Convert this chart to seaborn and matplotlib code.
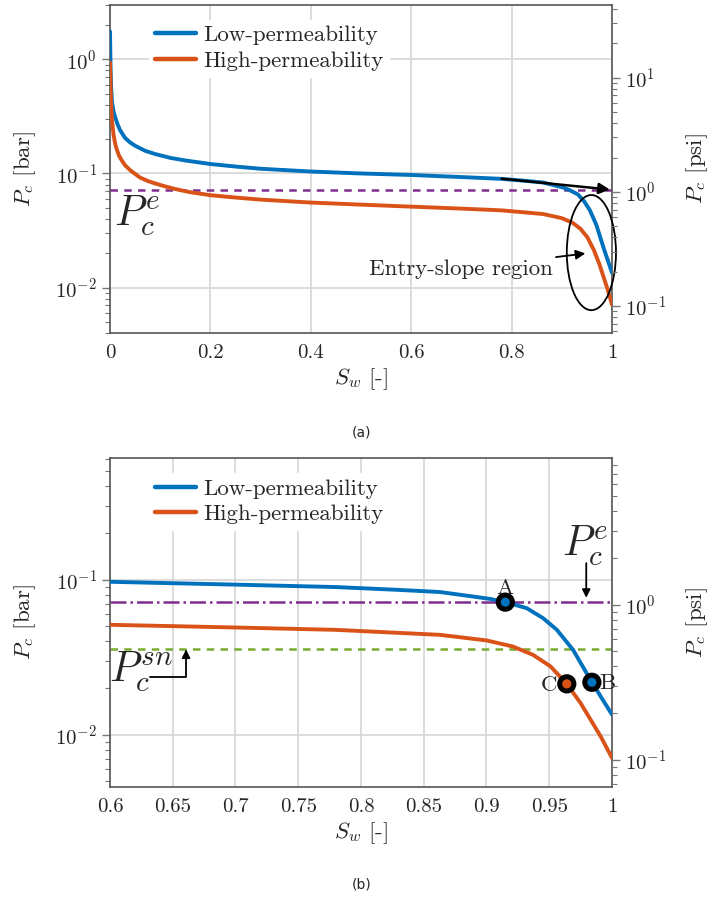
import numpy as np
import pandas as pd
import seaborn as sns
import matplotlib.pyplot as plt
from matplotlib.patches import Ellipse
from matplotlib.lines import Line2D
from matplotlib.ticker import FuncFormatter, FixedLocator, LogLocator, NullFormatter

# capillary pressure curves (Sw [-], Pc [bar])
sw_low = [0.0, 0.001, 0.002, 0.004, 0.007, 0.01, 0.015, 0.02, 0.03, 0.04, 0.05, 0.07, 0.09, 0.12,
          0.15, 0.2, 0.25, 0.3, 0.4, 0.5, 0.6, 0.7, 0.78, 0.83, 0.863, 0.889, 0.903, 0.915, 0.932,
          0.945, 0.956, 0.969, 0.984, 1.0]
pc_low = [1.76, 0.9, 0.6, 0.42, 0.35, 0.314, 0.27, 0.24, 0.205, 0.187, 0.175, 0.158, 0.148, 0.137,
          0.13, 0.121, 0.115, 0.11, 0.104, 0.1, 0.097, 0.093, 0.0897, 0.086, 0.0833, 0.078, 0.0752,
          0.0717, 0.0656, 0.0566, 0.0476, 0.0353, 0.0218, 0.0135]

sw_high = [0.0, 0.001, 0.002, 0.004, 0.007, 0.01, 0.013, 0.018, 0.023, 0.03, 0.04, 0.05, 0.06,
           0.075, 0.09, 0.11, 0.13, 0.16, 0.2, 0.25, 0.3, 0.4, 0.5, 0.6, 0.7, 0.78, 0.863, 0.9,
           0.921, 0.937, 0.951, 0.964, 0.975, 0.991, 1.0]
pc_high = [0.94, 0.6, 0.42, 0.29, 0.22, 0.185, 0.165, 0.143, 0.131, 0.118, 0.107, 0.099, 0.092,
           0.086, 0.0817, 0.077, 0.073, 0.0685, 0.0645, 0.0615, 0.059, 0.0556, 0.0533, 0.0512,
           0.0492, 0.0475, 0.0441, 0.0406, 0.0371, 0.0328, 0.0276, 0.0213, 0.016, 0.00976, 0.0071]

pc_entry = 0.0718    # P_c^e
pc_snap = 0.0359     # P_c^sn

point_names = ['A', 'B', 'C']
point_sw = [0.915, 0.984, 0.964]
point_pc = [0.0717, 0.0218, 0.0213]
point_curve = ['Low-permeability', 'Low-permeability', 'High-permeability']

BAR_TO_PSI = 14.5038

sns.set_style('ticks')
plt.rcParams['font.family'] = ['cmr10', 'DejaVu Serif']
plt.rcParams['mathtext.fontset'] = 'cm'
plt.rcParams['axes.formatter.use_mathtext'] = True

palette = {'Low-permeability': '#0072BD', 'High-permeability': '#D95319'}

df = pd.concat([
    pd.DataFrame({'Sw': sw_low, 'Pc': pc_low, 'curve': 'Low-permeability'}),
    pd.DataFrame({'Sw': sw_high, 'Pc': pc_high, 'curve': 'High-permeability'}),
], ignore_index=True)

pts = pd.DataFrame({'name': point_names, 'Sw': point_sw, 'Pc': point_pc, 'curve': point_curve})

fig = plt.figure(figsize=(7.12, 8.97), dpi=100)
ax1 = fig.add_axes([0.1545, 0.6288, 0.705, 0.3657])
ax2 = fig.add_axes([0.1545, 0.1226, 0.705, 0.3668])

FS = 15
LFS = 16.5


def setup(ax, xlim, ylim, xticks):
    ax.set_yscale('log')
    sns.lineplot(data=df, x='Sw', y='Pc', hue='curve', palette=palette, lw=2.8,
                 legend=False, ax=ax, zorder=3)
    ax.set_xlim(*xlim)
    ax.set_ylim(*ylim)
    ax.xaxis.set_major_locator(FixedLocator(xticks))
    ax.xaxis.set_major_formatter(FuncFormatter(lambda v, p: f'{v:g}'))
    ax.yaxis.set_major_locator(LogLocator(base=10, numticks=10))
    ax.yaxis.set_minor_locator(LogLocator(base=10, subs=np.arange(2, 10), numticks=20))
    ax.yaxis.set_minor_formatter(NullFormatter())
    ax.grid(True, which='major', color='#d6d6d6', lw=1.2)
    ax.set_axisbelow(True)
    for s in ax.spines.values():
        s.set_color('#555555')
        s.set_linewidth(1.2)
    ax.tick_params(axis='x', length=0, pad=8, labelsize=FS)
    ax.tick_params(axis='y', which='major', length=6, width=1, color='#777777', labelsize=FS, direction='out')
    ax.tick_params(axis='y', which='minor', length=3.5, width=0.8, color='#777777', direction='out')
    ax.set_xlabel(r'$S_w$ [-]', fontsize=LFS, labelpad=3)
    ax.set_ylabel(r'$P_c$ [bar]', fontsize=LFS, labelpad=12)

    axr = ax.twinx()
    axr.set_yscale('log')
    axr.set_ylim(ylim[0] * BAR_TO_PSI, ylim[1] * BAR_TO_PSI)
    axr.yaxis.set_major_locator(LogLocator(base=10, numticks=10))
    axr.yaxis.set_minor_locator(LogLocator(base=10, subs=np.arange(2, 10), numticks=20))
    axr.yaxis.set_minor_formatter(NullFormatter())
    axr.tick_params(axis='y', which='major', length=6, width=1, color='#777777', labelsize=FS)
    axr.tick_params(axis='y', which='minor', length=3.5, width=0.8, color='#777777')
    for s in axr.spines.values():
        s.set_visible(False)
    axr.set_ylabel(r'$P_c$ [psi]', fontsize=LFS, labelpad=13)

    handles = [Line2D([], [], color=palette[k], lw=3.2) for k in palette]
    leg = ax.legend(handles, list(palette.keys()), loc='upper left', bbox_to_anchor=(0.055, 0.99),
                    fontsize=LFS, frameon=True, framealpha=1, edgecolor='white', fancybox=False,
                    handlelength=1.8, handletextpad=0.3, labelspacing=0.25, borderpad=0.25)
    leg.set_zorder(5)
    return axr


# ---- (a) full range ----
setup(ax1, (0, 1), (0.004, 3.0), np.linspace(0, 1, 6))
ax1.axhline(pc_entry, color='#7E2F8E', ls=(0, (3, 2.5)), lw=1.8, zorder=2)
ax1.text(0.008, 0.043, r'$P_c^e$', fontsize=30, ha='left', va='center')
ax1.annotate('', xy=(0.996, 0.0722), xytext=(0.78, 0.09),
             arrowprops=dict(arrowstyle='-|>', color='black', lw=1.8, shrinkA=0, shrinkB=0,
                             mutation_scale=16), zorder=6)
ax1.add_patch(Ellipse((0.959, 0.245), 0.098, 0.351, transform=ax1.transAxes,
                      fill=False, edgecolor='black', lw=1.3, zorder=6, clip_on=False))
ax1.annotate('Entry-slope region', xy=(0.947, 0.0199), xytext=(0.882, 0.0146),
             ha='right', va='center', fontsize=LFS,
             arrowprops=dict(arrowstyle='-|>', color='black', lw=1.3, shrinkA=0, shrinkB=0,
                             mutation_scale=14))

# ---- (b) zoom near Sw = 1 ----
setup(ax2, (0.6, 1.0), (0.0046, 0.61), np.linspace(0.6, 1.0, 9))
ax2.axhline(pc_entry, color='#7E2F8E', ls='-.', lw=1.8, zorder=2)
ax2.axhline(pc_snap, color='#77AC30', ls=(0, (3, 2.5)), lw=1.8, zorder=2)
sns.scatterplot(data=pts, x='Sw', y='Pc', hue='curve', palette=palette, s=105,
                edgecolor='black', linewidth=3.6, legend=False, ax=ax2, zorder=4)
ax2.text(point_sw[0], 0.0815, 'A', fontsize=LFS, ha='center', va='baseline', zorder=6)
ax2.text(0.9895, 0.0216, 'B', fontsize=LFS, ha='left', va='center', zorder=6)
ax2.text(0.9565, 0.0208, 'C', fontsize=LFS, ha='right', va='center', zorder=6)
ax2.text(0.979, 0.166, r'$P_c^e$', fontsize=30, ha='center', va='center')
ax2.annotate('', xy=(0.9795, 0.0765), xytext=(0.9795, 0.128),
             arrowprops=dict(arrowstyle='-|>', color='black', lw=1.3, shrinkA=0, shrinkB=0,
                             mutation_scale=12))
ax2.text(0.5992, 0.0255, r'$P_c^{sn}$', fontsize=30, ha='left', va='center', zorder=6)
ax2.annotate('', xy=(0.6606, 0.0355), xytext=(0.632, 0.0237),
             arrowprops=dict(arrowstyle='-|>', color='black', lw=1.3, shrinkA=0, shrinkB=0,
                             mutation_scale=12,
                             connectionstyle='angle,angleA=0,angleB=90,rad=0'))

fig.text(0.508, 1 - 432 / 897, '(a)', fontsize=10, ha='center', va='center', family='DejaVu Sans')
fig.text(0.508, 1 - 884 / 897, '(b)', fontsize=10, ha='center', va='center', family='DejaVu Sans')

fig.savefig('out.png', dpi=100)
